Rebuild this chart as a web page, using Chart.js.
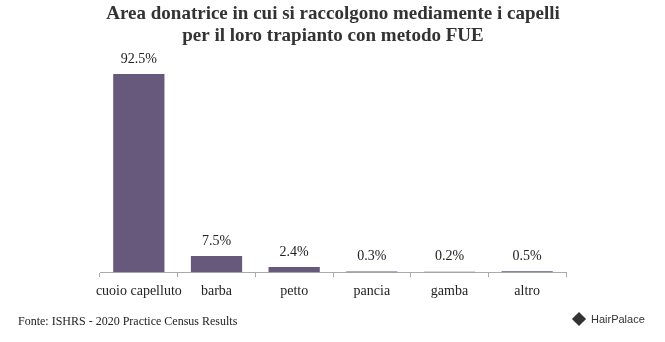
<!DOCTYPE html>
<html lang="it">
<head>
  <meta charset="UTF-8" />
  <title>Area donatrice FUE</title>
  <script src="https://cdn.jsdelivr.net/npm/chart.js"></script>
  <style>
    html, body { margin: 0; padding: 0; background: #ffffff; }
    .wrap { position: relative; width: 665px; height: 342px; }
    .source {
      position: absolute; left: 18px; top: 314px;
      font-family: "Liberation Serif", serif; font-size: 12px; color: #222;
    }
    .brand {
      position: absolute; left: 574px; top: 313px;
      font-family: "Liberation Sans", sans-serif; font-size: 11px; color: #333;
      display: flex; align-items: center;
    }
    .brand i {
      display: inline-block; width: 10px; height: 10px; background: #333;
      transform: rotate(45deg); margin-right: 7px;
    }
  </style>
</head>
<body>
  <div class="wrap">
    <canvas id="chart" width="665" height="342"></canvas>
    <div class="source">Fonte: ISHRS - 2020 Practice Census Results</div>
    <div class="brand"><i></i>HairPalace</div>
  </div>

  <script>
    const categories = ['cuoio capelluto', 'barba', 'petto', 'pancia', 'gamba', 'altro'];
    const percentages = [92.5, 7.5, 2.4, 0.3, 0.2, 0.5];
    const valueLabels = ['92.5%', '7.5%', '2.4%', '0.3%', '0.2%', '0.5%'];

    // scrive il valore sopra ogni barra
    const valueLabelPlugin = {
      id: 'valueLabels',
      afterDatasetsDraw(chart) {
        const ctx = chart.ctx;
        const meta = chart.getDatasetMeta(0);
        ctx.save();
        ctx.font = '14px "Liberation Serif", serif';
        ctx.fillStyle = '#222';
        ctx.textAlign = 'center';
        ctx.textBaseline = 'bottom';
        meta.data.forEach((bar, i) => {
          ctx.fillText(valueLabels[i], bar.x, bar.y - 8);
        });
        ctx.restore();
      }
    };

    new Chart(document.getElementById('chart').getContext('2d'), {
      type: 'bar',
      data: {
        labels: categories,
        datasets: [{
          data: percentages,
          backgroundColor: '#66597b',
          barPercentage: 0.66,
          categoryPercentage: 1
        }]
      },
      options: {
        responsive: false,
        animation: false,
        layout: { padding: { left: 100, right: 99, top: 0, bottom: 36 } },
        plugins: {
          legend: { display: false },
          tooltip: { enabled: false },
          title: {
            display: true,
            text: ['Area donatrice in cui si raccolgono mediamente i capelli',
                   'per il loro trapianto con metodo FUE'],
            color: '#333',
            font: { family: '"Liberation Serif", serif', size: 19, weight: 'bold', lineHeight: 1.16 },
            padding: { top: 3, bottom: 14 }
          }
        },
        scales: {
          x: {
            grid: { drawOnChartArea: false, drawTicks: true, tickLength: 5, color: '#aaa', offset: true },
            border: { color: '#aaa' },
            ticks: {
              color: '#222',
              padding: 6,
              autoSkip: false,
              maxRotation: 0,
              minRotation: 0,
              font: { family: '"Liberation Serif", serif', size: 14 }
            }
          },
          y: {
            display: false,
            min: 0,
            max: 98.5
          }
        }
      },
      plugins: [valueLabelPlugin]
    });
  </script>
</body>
</html>
